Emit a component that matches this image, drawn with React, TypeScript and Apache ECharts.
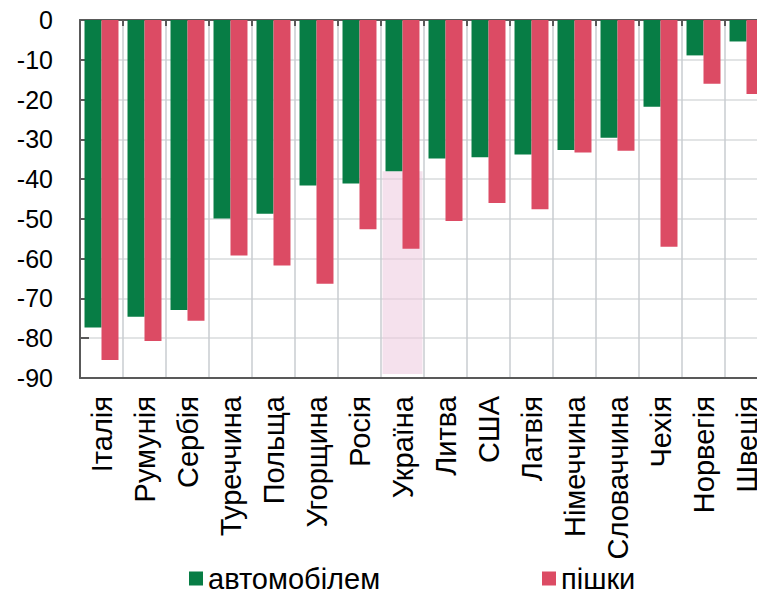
import React, { useEffect, useRef } from "react";
import * as echarts from "echarts";

const categories = ["Італія", "Румунія", "Сербія", "Туреччина", "Польща", "Угорщина", "Росія", "Україна", "Литва", "США", "Латвія", "Німеччина", "Словаччина", "Чехія", "Норвегія", "Швеція"];
const carValues = [-77.3, -74.6, -72.9, -49.9, -48.7, -41.6, -41.1, -38.0, -34.8, -34.5, -33.8, -32.7, -29.6, -21.8, -8.9, -5.4];
const walkValues = [-85.5, -80.7, -75.6, -59.2, -61.7, -66.3, -52.6, -57.5, -50.5, -46.0, -47.6, -33.3, -32.9, -57.0, -16.0, -18.6];
const seriesNames = ["автомобілем", "пішки"];
const highlightCategory = "Україна";
const highlightEnd = -89;

const FONT = "Liberation Sans, Arial, sans-serif";

export default function App() {
  const ref = useRef<HTMLDivElement>(null);
  useEffect(() => {
    if (!ref.current) return;
    const chart = echarts.init(ref.current, undefined, { renderer: "svg" });
    const hiIdx = categories.indexOf(highlightCategory);
    const hiBase = categories.map((_, i) => (i === hiIdx ? carValues[i] : null));
    const hiBand = categories.map((_, i) => (i === hiIdx ? highlightEnd - carValues[i] : null));
    const legendText = { fontSize: 29, color: "#000", fontFamily: FONT, lineHeight: 26 };
    chart.setOption({
      animation: false,
      textStyle: { fontFamily: FONT },
      grid: { left: 80, top: 20, width: 688, height: 358, containLabel: false },
      legend: [
        {
          data: [seriesNames[0]],
          left: 189,
          top: 564,
          itemWidth: 14,
          itemHeight: 14,
          itemGap: 5,
          padding: 0,
          icon: "rect",
          textStyle: legendText,
        },
        {
          data: [seriesNames[1]],
          left: 542,
          top: 564,
          itemWidth: 14,
          itemHeight: 14,
          padding: 0,
          icon: "rect",
          textStyle: legendText,
        },
      ],
      xAxis: [
        {
          type: "category",
          data: categories,
          position: "bottom",
          axisLine: { onZero: false, lineStyle: { color: "#595959", width: 2 } },
          axisTick: { show: false },
          splitLine: { show: false },
          axisLabel: { rotate: 90, margin: 18, fontSize: 29, color: "#000", fontFamily: FONT, interval: 0 },
        },
        {
          type: "category",
          data: categories,
          position: "top",
          axisLine: { onZero: false, lineStyle: { color: "#595959", width: 2 } },
          axisTick: { show: true, inside: true, interval: 0, length: 6, lineStyle: { color: "#595959", width: 2 } },
          axisLabel: { show: false, interval: 0 },
          splitLine: { show: true, interval: 0, lineStyle: { color: "#c9ccd0", width: 1.5 } },
        },
      ],
      yAxis: {
        type: "value",
        min: -90,
        max: 0,
        interval: 10,
        axisLine: { show: true, lineStyle: { color: "#595959", width: 2 } },
        axisTick: { show: true, inside: true, length: 9, lineStyle: { color: "#595959", width: 2 } },
        axisLabel: { fontSize: 25, color: "#000", margin: 27, fontFamily: FONT },
        splitLine: { show: true, lineStyle: { color: "#d9dbdc", width: 1.5 } },
      },
      series: [
        {
          type: "bar",
          xAxisIndex: 1,
          stack: "hi",
          data: hiBase,
          barWidth: 40,
          itemStyle: { color: "transparent" },
          silent: true,
          z: 1,
        },
        {
          type: "bar",
          xAxisIndex: 1,
          stack: "hi",
          data: hiBand,
          barWidth: 40,
          itemStyle: { color: "rgba(236, 200, 222, 0.55)" },
          silent: true,
          z: 1,
        },
        {
          name: seriesNames[0],
          type: "bar",
          xAxisIndex: 0,
          data: carValues,
          barGap: "0%",
          barCategoryGap: "21%",
          itemStyle: { color: "#077d45" },
          z: 3,
        },
        {
          name: seriesNames[1],
          type: "bar",
          xAxisIndex: 0,
          data: walkValues,
          barGap: "0%",
          barCategoryGap: "21%",
          itemStyle: { color: "#dc4b64" },
          z: 3,
        },
      ],
    });
    return () => chart.dispose();
  }, []);
  return (
    <div style={{ position: "absolute", left: 0, top: 0, width: 757, height: 591, overflow: "hidden" }}>
      <div ref={ref} style={{ width: 780, height: 591 }} />
    </div>
  );
}
